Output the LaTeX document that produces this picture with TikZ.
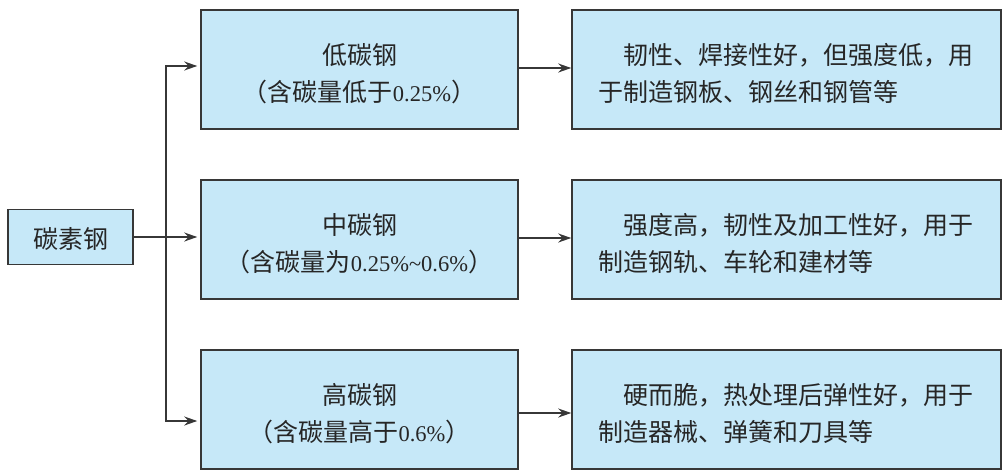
\documentclass[tikz,border=0pt]{standalone}
\usepackage{fontspec}
\setmainfont{Liberation Serif}
\newfontfamily\cjk{Noto Sans CJK SC}
\usetikzlibrary{arrows.meta}
\definecolor{boxfill}{RGB}{198,232,248}
\definecolor{boxline}{RGB}{55,55,55}
\newcommand{\lat}[1]{{\rmfamily\fontsize{22.5}{22.5}\selectfont #1}}
\newcommand{\lowstrut}{\rule{0pt}{29pt}}
\begin{document}
\begin{tikzpicture}[x=1pt,y=-1pt,
  box/.style={draw=boxline, line width=1.5pt, fill=boxfill, inner sep=0pt,
    font=\cjk\fontsize{25}{37}\selectfont, text=black!85},
  midbox/.style={box, minimum width=317pt, minimum height=119pt, align=center},
  rightbox/.style={box, minimum width=429pt, minimum height=119pt, align=left, text width=377pt},
  conn/.style={line width=1.4pt, draw=boxline, -{Stealth[length=13pt,width=9pt]}}]
\useasboundingbox (0,0) rectangle (1006,472);

\node[box, minimum width=125pt, minimum height=55pt] (root) at (70.5,237) {\rule{0pt}{25pt}碳素钢};

\node[midbox] (m1) at (359.5,69.5) {\lowstrut 低碳钢\\（含碳量低于\lat{0.25\%}）};
\node[midbox] (m2) at (359.5,239.5) {\lowstrut 中碳钢\\（含碳量为\lat{0.25\%\textasciitilde0.6\%}）};
\node[midbox] (m3) at (359.5,409.5) {\lowstrut 高碳钢\\（含碳量高于\lat{0.6\%}）};

\node[rightbox] (r1) at (786.5,69.5) {\lowstrut\hspace*{1em}韧性、焊接性好，但强度低，用\\于制造钢板、钢丝和钢管等};
\node[rightbox] (r2) at (786.5,239.5) {\lowstrut\hspace*{1em}强度高，韧性及加工性好，用于\\制造钢轨、车轮和建材等};
\node[rightbox] (r3) at (786.5,409.5) {\lowstrut\hspace*{1em}硬而脆，热处理后弹性好，用于\\制造器械、弹簧和刀具等};

\coordinate (sp) at (166,237);
\draw[conn, shorten >=3pt] (root.east) -- (root.east -| m2.west);
\draw[conn, shorten >=3pt] (sp) |- ([yshift=3.5pt]m1.west);
\draw[conn, shorten >=3pt] (sp) |- ([yshift=-11.5pt]m3.west);

\draw[conn] ([yshift=1.5pt]m1.east) -- ([yshift=1.5pt]r1.west);
\draw[conn] ([yshift=1.5pt]m2.east) -- ([yshift=1.5pt]r2.west);
\draw[conn] ([yshift=-3.5pt]m3.east) -- ([yshift=-3.5pt]r3.west);
\end{tikzpicture}
\end{document}
